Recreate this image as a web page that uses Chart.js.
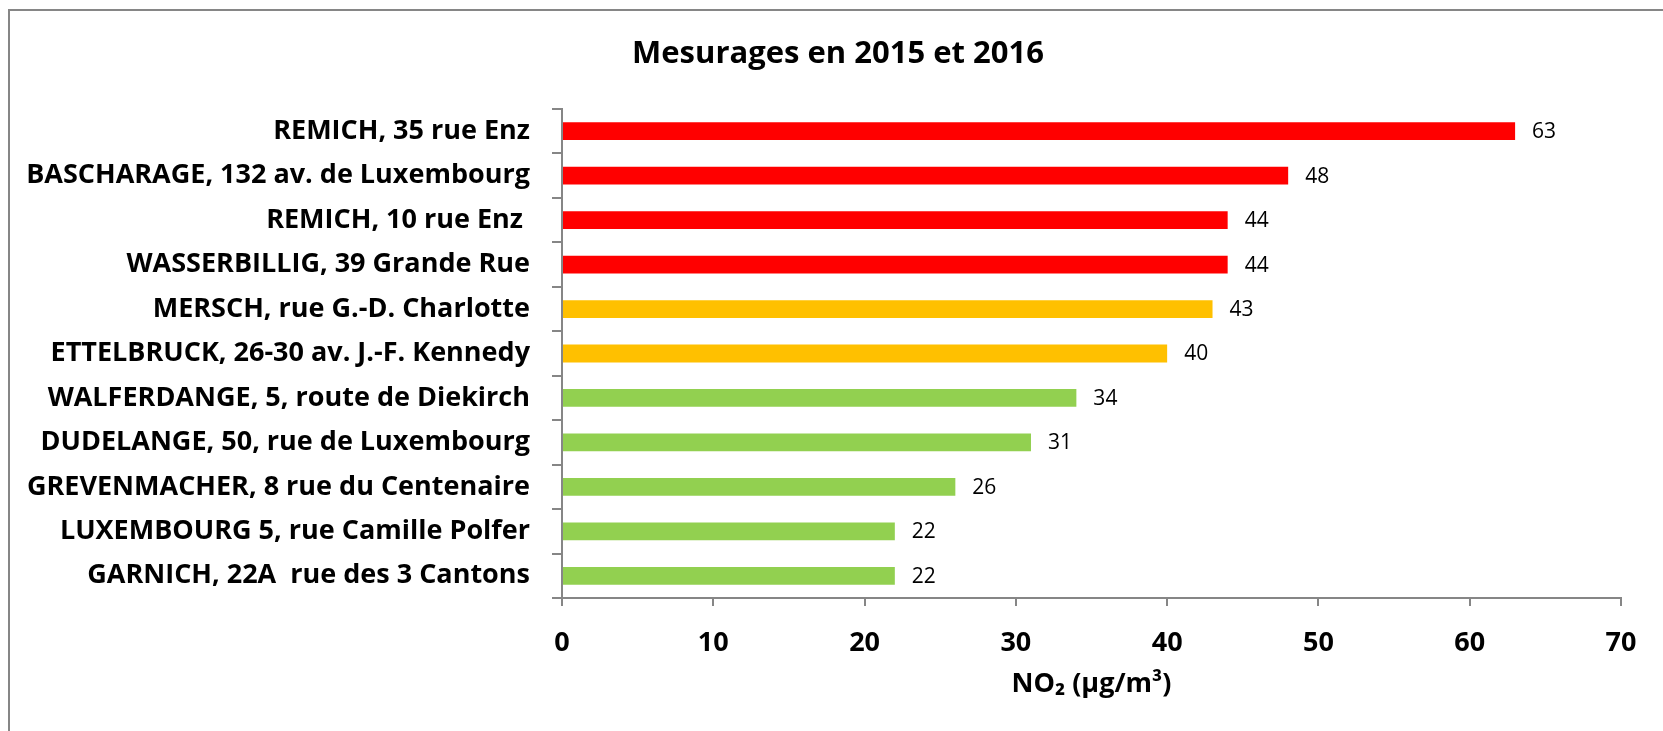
<!DOCTYPE html>
<html lang="fr">
<head>
<meta charset="utf-8">
<title>Mesurages en 2015 et 2016</title>
<script src="https://cdn.jsdelivr.net/npm/chart.js@4/dist/chart.umd.min.js"></script>
<style>
html,body{margin:0;padding:0;background:#fff;}
#wrap{position:relative;width:1663px;height:731px;overflow:hidden;}
#frame{position:absolute;left:8px;top:9px;width:1700px;height:760px;border-top:2px solid #868686;border-left:2px solid #868686;pointer-events:none;}
</style>
</head>
<body>

<div id="wrap">
<canvas id="no2Chart" width="1663" height="731"></canvas>
<div id="frame"></div>
</div>

<script>

const chartTitle="Mesurages en 2015 et 2016";

const stations=[
"REMICH, 35 rue Enz",
"BASCHARAGE, 132 av. de Luxembourg",
"REMICH, 10 rue Enz ",
"WASSERBILLIG, 39 Grande Rue",
"MERSCH, rue G.-D. Charlotte",
"ETTELBRUCK, 26-30 av. J.-F. Kennedy",
"WALFERDANGE, 5, route de Diekirch",
"DUDELANGE, 50, rue de Luxembourg",
"GREVENMACHER, 8 rue du Centenaire",
"LUXEMBOURG 5, rue Camille Polfer",
"GARNICH, 22A  rue des 3 Cantons"
];

const values=[63,48,44,44,43,40,34,31,26,22,22];

const barColors=[
"#ff0000","#ff0000","#ff0000","#ff0000",
"#ffc000","#ffc000",
"#92d050","#92d050","#92d050","#92d050","#92d050"
];

const xTicks=[0,10,20,30,40,50,60,70];

const AXIS="#868686";

Chart.defaults.font.family="'Open Sans', sans-serif";
Chart.defaults.color="#000";

// titre centré sur le cadre d'origine (plus large que la capture)
const frameTitle={
id:"frameTitle",
afterDraw(chart){
const ctx=chart.ctx;
ctx.save();
ctx.font="bold 31px 'Open Sans', sans-serif";
ctx.fillStyle="#000";
ctx.textAlign="center";
ctx.textBaseline="middle";
ctx.fillText(chartTitle,838,54);
ctx.restore();
}
};

// valeurs au bout des barres
const valueLabels={
id:"valueLabels",
afterDatasetsDraw(chart){
const ctx=chart.ctx;
const meta=chart.getDatasetMeta(0);
ctx.save();
ctx.font="21px 'Open Sans', sans-serif";
ctx.fillStyle="#000";
ctx.textAlign="left";
ctx.textBaseline="middle";
meta.data.forEach((bar,i)=>{
ctx.fillText(String(values[i]),bar.x+17,bar.y+1);
});
ctx.restore();
}
};

new Chart(document.getElementById("no2Chart"),{

type:"bar",

data:{
labels:stations,
datasets:[{
data:values,
backgroundColor:barColors,
borderWidth:0,
barPercentage:0.4,
categoryPercentage:1
}]
},

options:{
indexAxis:"y",
responsive:false,
animation:false,
layout:{
padding:{left:10,right:42,top:109,bottom:0}
},
plugins:{
legend:{display:false},
tooltip:{enabled:false},
title:{display:false}
},
scales:{
y:{
afterFit(scale){scale.width=552;},
grid:{
drawOnChartArea:false,
drawTicks:true,
offset:true,
tickLength:10,
color:AXIS,
lineWidth:2
},
border:{display:true,color:AXIS,width:2},
ticks:{
padding:22,
color:"#000",
font:{size:27,weight:"bold"}
}
},
x:{
min:0,
max:70,
afterFit(scale){scale.height=133;},
afterBuildTicks(scale){
scale.ticks=xTicks.map(v=>({value:v}));
},
grid:{
drawOnChartArea:false,
drawTicks:true,
tickLength:8,
color:AXIS,
lineWidth:2
},
border:{display:true,color:AXIS,width:2},
ticks:{
padding:21,
color:"#000",
font:{size:27,weight:"bold"}
},
title:{
display:true,
text:"NO₂ (µg/m³)",
color:"#000",
font:{size:27,weight:"bold"},
padding:{top:0,bottom:30}
}
}
}
},

plugins:[valueLabels,frameTitle]

});

</script>
</body>
</html>
